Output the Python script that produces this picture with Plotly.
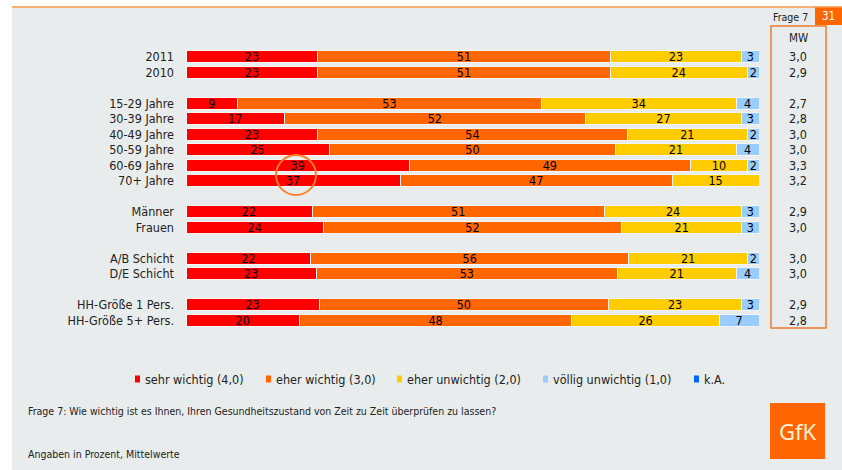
import plotly.graph_objects as go

# ---------------- data ----------------
categories = ["2011", "2010", "", "15-29 Jahre", "30-39 Jahre", "40-49 Jahre", "50-59 Jahre",
              "60-69 Jahre", "70+ Jahre", "", "Männer", "Frauen", "", "A/B Schicht", "D/E Schicht",
              "", "HH-Größe 1 Pers.", "HH-Größe 5+ Pers."]
sehr_wichtig = [23, 23, None, 9, 17, 23, 25, 39, 37, None, 22, 24, None, 22, 23, None, 23, 20]
eher_wichtig = [51, 51, None, 53, 52, 54, 50, 49, 47, None, 51, 52, None, 56, 53, None, 50, 48]
eher_unwichtig = [23, 24, None, 34, 27, 21, 21, 10, 15, None, 24, 21, None, 21, 21, None, 23, 26]
voellig_unwichtig = [3, 2, None, 4, 3, 2, 4, 2, None, None, 3, 3, None, 2, 4, None, 3, 7]
mittelwerte = ["3,0", "2,9", "", "2,7", "2,8", "3,0", "3,0", "3,3", "3,2", "", "2,9", "3,0", "",
               "3,0", "3,0", "", "2,9", "2,8"]
series_names = ["sehr wichtig (4,0)", "eher wichtig (3,0)", "eher unwichtig (2,0)",
                "völlig unwichtig (1,0)", "k.A."]
series_colors = ["#ff0000", "#ff6600", "#ffcc00", "#99ccff", "#0066ff"]

FONT = "DejaVu Sans Condensed, Liberation Sans, Arial, sans-serif"

# ---------------- figure ----------------
W, H = 842, 470
L, R, T, B = 186, 83, 49, 142
PW, PH = W - L - R, H - T - B


def px(x):
    return (x - L) / PW


def py(y):
    return (H - B - y) / PH


slots = list(range(len(categories)))
series_values = [sehr_wichtig, eher_wichtig, eher_unwichtig, voellig_unwichtig]

# normalise each row to 100 for bar widths, keep integer labels as text
row_sums = []
for i in slots:
    s = sum((v[i] or 0) for v in series_values)
    row_sums.append(s if s else 1)

fig = go.Figure()
for name, color, vals in zip(series_names, series_colors, series_values):
    xs, ys, txt = [], [], []
    for i in slots:
        if vals[i] is None:
            continue
        xs.append(vals[i] * 100.0 / row_sums[i])
        ys.append(i)
        txt.append(str(vals[i]))
    fig.add_trace(go.Bar(
        x=xs, y=ys, orientation="h", name=name, text=txt,
        marker=dict(color=color, line=dict(color="#f4f4f4", width=1)),
        width=0.75, textposition="inside", insidetextanchor="middle",
        textangle=0, constraintext="none",
        textfont=dict(family=FONT, size=12.5, color="#000000"),
        showlegend=False, hoverinfo="skip",
    ))

shapes = []
annotations = []

# grey panel and top line
shapes.append(dict(type="rect", xref="paper", yref="paper", x0=px(12), x1=px(842),
                   y0=py(7.5), y1=py(470), fillcolor="#e9ecec", line=dict(width=0), layer="below"))
shapes.append(dict(type="line", xref="paper", yref="paper", x0=px(12), x1=px(842),
                   y0=py(7), y1=py(7), line=dict(color="#f79646", width=1.5)))
# page number box
shapes.append(dict(type="rect", xref="paper", yref="paper", x0=px(815), x1=px(842),
                   y0=py(7.5), y1=py(25), fillcolor="#ff6600", line=dict(width=0)))
annotations.append(dict(xref="paper", yref="paper", x=px(828.5), y=py(16.5), text="31",
                        showarrow=False, xanchor="center", yanchor="middle",
                        font=dict(family=FONT, size=11.5, color="#ffffff")))
annotations.append(dict(xref="paper", yref="paper", x=px(771), y=py(17), text="Frage 7",
                        showarrow=False, xanchor="left", yanchor="middle",
                        font=dict(family=FONT, size=10.5, color="#222222")))
# MW box
shapes.append(dict(type="rect", xref="paper", yref="paper", x0=px(771), x1=px(826),
                   y0=py(26), y1=py(328), line=dict(color="#f07b2c", width=1.5)))
annotations.append(dict(xref="paper", yref="paper", x=px(798), y=py(37.5), text="MW",
                        showarrow=False, xanchor="center", yanchor="middle",
                        font=dict(family=FONT, size=11.5, color="#222222")))
for i, mw in enumerate(mittelwerte):
    if mw:
        annotations.append(dict(xref="paper", yref="y", x=px(798), y=i, text=mw,
                                showarrow=False, xanchor="center", yanchor="middle",
                                font=dict(family=FONT, size=12.5, color="#222222")))

# highlight circle
shapes.append(dict(type="circle", xref="paper", yref="paper", x0=px(276), x1=px(316),
                   y0=py(155), y1=py(195), line=dict(color="#ff7f27", width=2)))

# legend
legend_x = [135, 266, 397, 543, 694]
for name, color, lx in zip(series_names, series_colors, legend_x):
    shapes.append(dict(type="rect", xref="paper", yref="paper", x0=px(lx), x1=px(lx + 5),
                       y0=py(375.5), y1=py(382.5), fillcolor=color, line=dict(width=0)))
    annotations.append(dict(xref="paper", yref="paper", x=px(lx + 8), y=py(379), text=name,
                            showarrow=False, xanchor="left", yanchor="middle",
                            font=dict(family=FONT, size=12.5, color="#222222")))

# footnotes
annotations.append(dict(xref="paper", yref="paper", x=px(26), y=py(411),
                        text="Frage 7: Wie wichtig ist es Ihnen, Ihren Gesundheitszustand von Zeit zu Zeit überprüfen zu lassen?",
                        showarrow=False, xanchor="left", yanchor="middle",
                        font=dict(family=FONT, size=10.5, color="#222222")))
annotations.append(dict(xref="paper", yref="paper", x=px(26), y=py(454),
                        text="Angaben in Prozent, Mittelwerte",
                        showarrow=False, xanchor="left", yanchor="middle",
                        font=dict(family=FONT, size=10.5, color="#222222")))

# GfK logo
shapes.append(dict(type="rect", xref="paper", yref="paper", x0=px(770), x1=px(825),
                   y0=py(403), y1=py(459), fillcolor="#ff6600", line=dict(width=0)))
annotations.append(dict(xref="paper", yref="paper", x=px(797.5), y=py(431), text="GfK",
                        showarrow=False, xanchor="center", yanchor="middle",
                        font=dict(family="Noto Sans, DejaVu Sans, sans-serif", size=22, color="#fff3d9")))

fig.update_layout(
    width=W, height=H, margin=dict(l=L, r=R, t=T, b=B, autoexpand=False),
    barmode="stack", bargap=0.25,
    paper_bgcolor="#ffffff", plot_bgcolor="rgba(0,0,0,0)",
    shapes=shapes, annotations=annotations, showlegend=False,
    uniformtext=dict(minsize=12, mode="show"),
    font=dict(family=FONT, size=12, color="#222222"),
    xaxis=dict(range=[0, 100], visible=False, fixedrange=True),
    yaxis=dict(range=[len(categories) - 0.5, -0.5], tickvals=slots, ticktext=categories,
               showgrid=False, zeroline=False, showline=False, ticks="",
               ticklabelstandoff=11, tickfont=dict(family=FONT, size=12.5, color="#222222"),
               fixedrange=True),
)

fig.write_html("out.html", config={"displayModeBar": False},
               post_script="document.body.style.margin='0';document.body.style.overflow='hidden';")
